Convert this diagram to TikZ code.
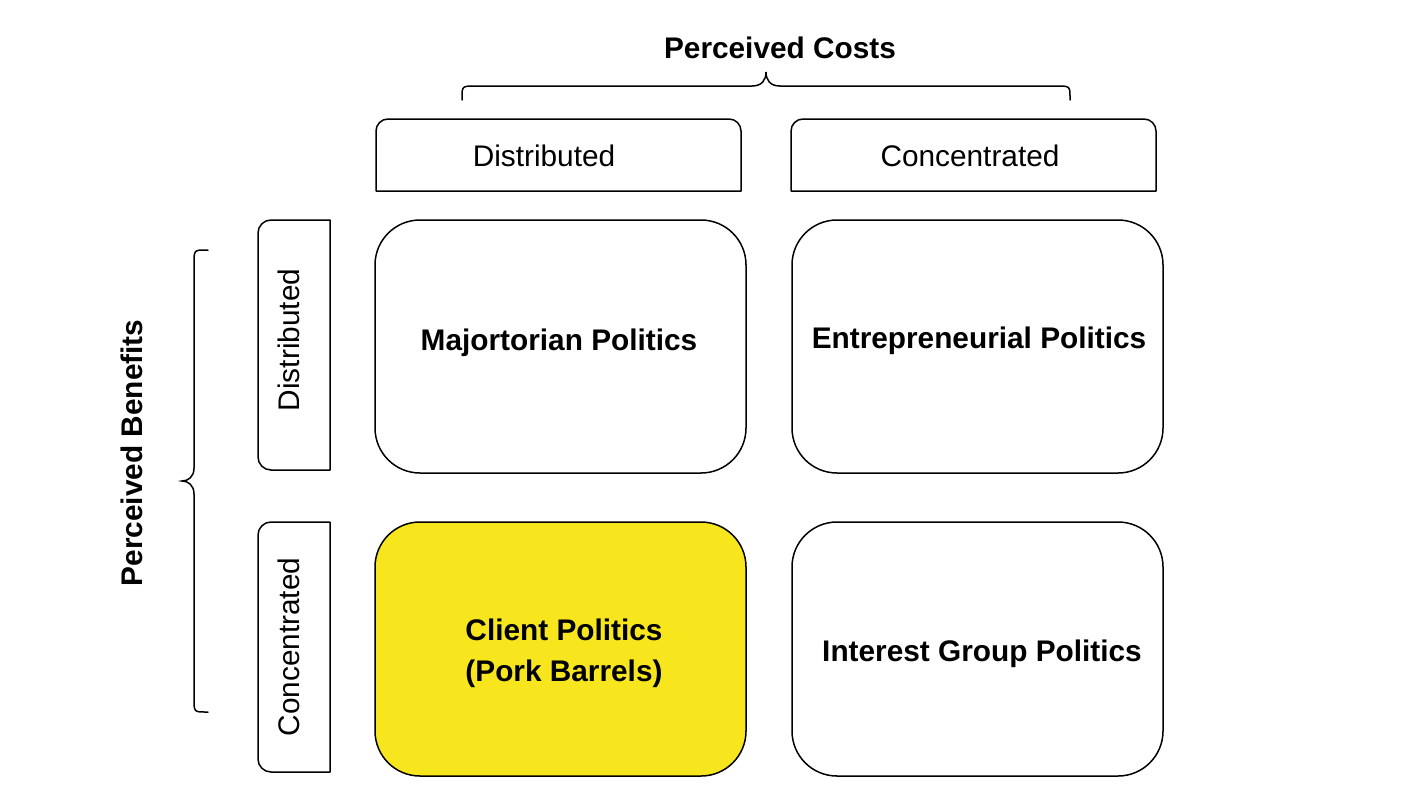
\documentclass[tikz,border=0pt]{standalone}
\usepackage{fontspec}
\setmainfont{Liberation Sans}
\definecolor{pork}{HTML}{F7E61E}
\begin{document}
\begin{tikzpicture}[x=1pt,y=-1pt,
  lbl/.style={font=\fontsize{29.8}{41}\selectfont, inner sep=0pt, align=center},
  blbl/.style={lbl, font=\fontsize{29.8}{41}\selectfont\bfseries},
  cell/.style={draw, line width=1.5pt, rounded corners=45pt},
  frame/.style={line width=1.5pt, line join=round},
  brace/.style={line width=1.5pt, line cap=round}]
\useasboundingbox[fill=white] (0,0) rectangle (1404,806);

% top header boxes (rounded top corners)
\draw[frame] (376,191) -- (376,131) arc[start angle=180,end angle=270,radius=12] -- (729,119) arc[start angle=270,end angle=360,radius=12] -- (741,191) -- cycle;
\draw[frame] (791,191) -- (791,131) arc[start angle=180,end angle=270,radius=12] -- (1144,119) arc[start angle=270,end angle=360,radius=12] -- (1156,191) -- cycle;
\node[lbl] (hdist) at (544,156) {Distributed};
\node[lbl] (hconc) at (970,156) {Concentrated};

% side boxes (rounded left corners)
\draw[frame] (330,220) -- (271,220) arc[start angle=270,end angle=180,radius=13] -- (258,457) arc[start angle=180,end angle=90,radius=13] -- (330,470) -- cycle;
\draw[frame] (330,522) -- (271,522) arc[start angle=270,end angle=180,radius=13] -- (258,759) arc[start angle=180,end angle=90,radius=13] -- (330,772) -- cycle;
\node[lbl, rotate=90] (sdist) at (289,340) {Distributed};
\node[lbl, rotate=90] (sconc) at (289,647) {Concentrated};

% main cells
\draw[cell] (375,220) rectangle (746,473);
\draw[cell] (792,220) rectangle (1163,473);
\draw[cell, fill=pork] (375,522) rectangle (746,776);
\draw[cell] (792,522) rectangle (1163,776);
\node[blbl] (maj) at (559,343) {Majortorian Politics};
\node[blbl] (ent) at (979,341) {Entrepreneurial Politics};
\node[blbl] (cli) at (564,653) {Client Politics\\(Pork Barrels)};
\node[blbl] (int) at (982,654) {Interest Group Politics};

% top brace
\draw[brace] (462,100) -- (462,98) .. controls (462,86) .. (476,86) -- (752,86)
  .. controls (762,86) and (766,80) .. (766,72)
  .. controls (766,80) and (770,86) .. (780,86) -- (1056,86)
  .. controls (1070,86) .. (1070,98) -- (1070,100);
\node[blbl] (pcost) at (780,48) {Perceived Costs};

% left brace
\draw[brace] (208,250) -- (206,250) .. controls (194,250) .. (194,264) -- (194,468)
  .. controls (194,477) and (188,481) .. (182,481)
  .. controls (188,481) and (194,485) .. (194,494) -- (194,698)
  .. controls (194,712) .. (206,712) -- (208,712);
\node[blbl, rotate=90] (pben) at (132,453) {Perceived Benefits};
\end{tikzpicture}
\end{document}
